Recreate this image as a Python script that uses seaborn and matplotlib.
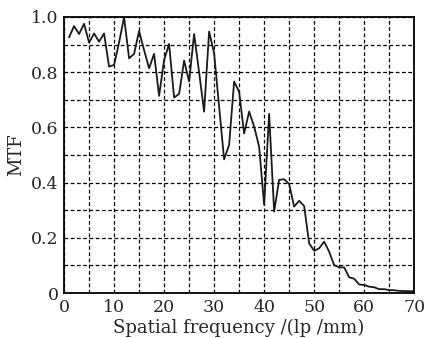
import numpy as np
import pandas as pd
import matplotlib
matplotlib.use("Agg")
import matplotlib.pyplot as plt
import seaborn as sns

# spatial frequency (lp/mm) and MTF values
freq = [1, 2, 3, 4, 5, 6, 7, 8, 9, 10,
        11, 12, 13, 14, 15, 16, 17, 18, 19, 20,
        21, 22, 23, 24, 25, 26, 27, 28, 29, 30,
        31, 32, 33, 34, 35, 36, 37, 38, 39, 40,
        41, 42, 43, 44, 45, 46, 47, 48, 49, 50,
        51, 52, 53, 54, 55, 56, 57, 58, 59, 60,
        61, 62, 63, 64, 65, 66, 67, 68, 69, 70]
mtf = [0.926, 0.967, 0.938, 0.975, 0.907, 0.940, 0.910, 0.940, 0.820, 0.826,
       0.907, 0.999, 0.850, 0.866, 0.949, 0.880, 0.814, 0.866, 0.714, 0.844,
       0.902, 0.708, 0.721, 0.842, 0.766, 0.938, 0.800, 0.657, 0.947, 0.868,
       0.675, 0.484, 0.536, 0.766, 0.729, 0.578, 0.657, 0.603, 0.530, 0.320,
       0.649, 0.295, 0.410, 0.412, 0.395, 0.313, 0.334, 0.315, 0.180, 0.153,
       0.162, 0.186, 0.150, 0.101, 0.093, 0.093, 0.057, 0.052, 0.031, 0.029,
       0.023, 0.021, 0.014, 0.014, 0.011, 0.010, 0.008, 0.007, 0.007, 0.006]

x_ticks = [0, 10, 20, 30, 40, 50, 60, 70]
y_ticks = [0, 0.2, 0.4, 0.6, 0.8, 1.0]
y_tick_labels = ["0", "0.2", "0.4", "0.6", "0.8", "1.0"]

df = pd.DataFrame({"freq": freq, "mtf": mtf})

sns.set_style("white")
plt.rcParams["font.family"] = ["DejaVu Serif"]

fig = plt.figure(figsize=(4.27, 3.38), dpi=100)
ax = fig.add_axes([0.15, 0.133, 0.82, 0.817])

sns.lineplot(data=df, x="freq", y="mtf", ax=ax, color="#1a1a1a", linewidth=1.3)

ax.set_xlim(0, 70)
ax.set_ylim(0, 1.0)
ax.set_xticks(np.arange(0, 71, 5), minor=True)
ax.set_yticks(np.arange(0, 1.01, 0.1), minor=True)
ax.set_xticks(x_ticks)
ax.set_yticks(y_ticks)
ax.set_yticklabels(y_tick_labels)
ax.grid(True, which="both", color="black", linestyle=(0, (3, 2)), linewidth=0.9)
ax.tick_params(which="both", length=0, labelsize=12.5)
ax.tick_params(axis="x", pad=4)
ax.tick_params(axis="y", pad=4)

for s in ax.spines.values():
    s.set_color("black")
    s.set_linewidth(1.3)

ax.set_xlabel("Spatial frequency /(lp /mm)", fontsize=13, labelpad=2)
ax.set_ylabel("MTF", fontsize=13, labelpad=4)

fig.savefig("out.png", dpi=100)
